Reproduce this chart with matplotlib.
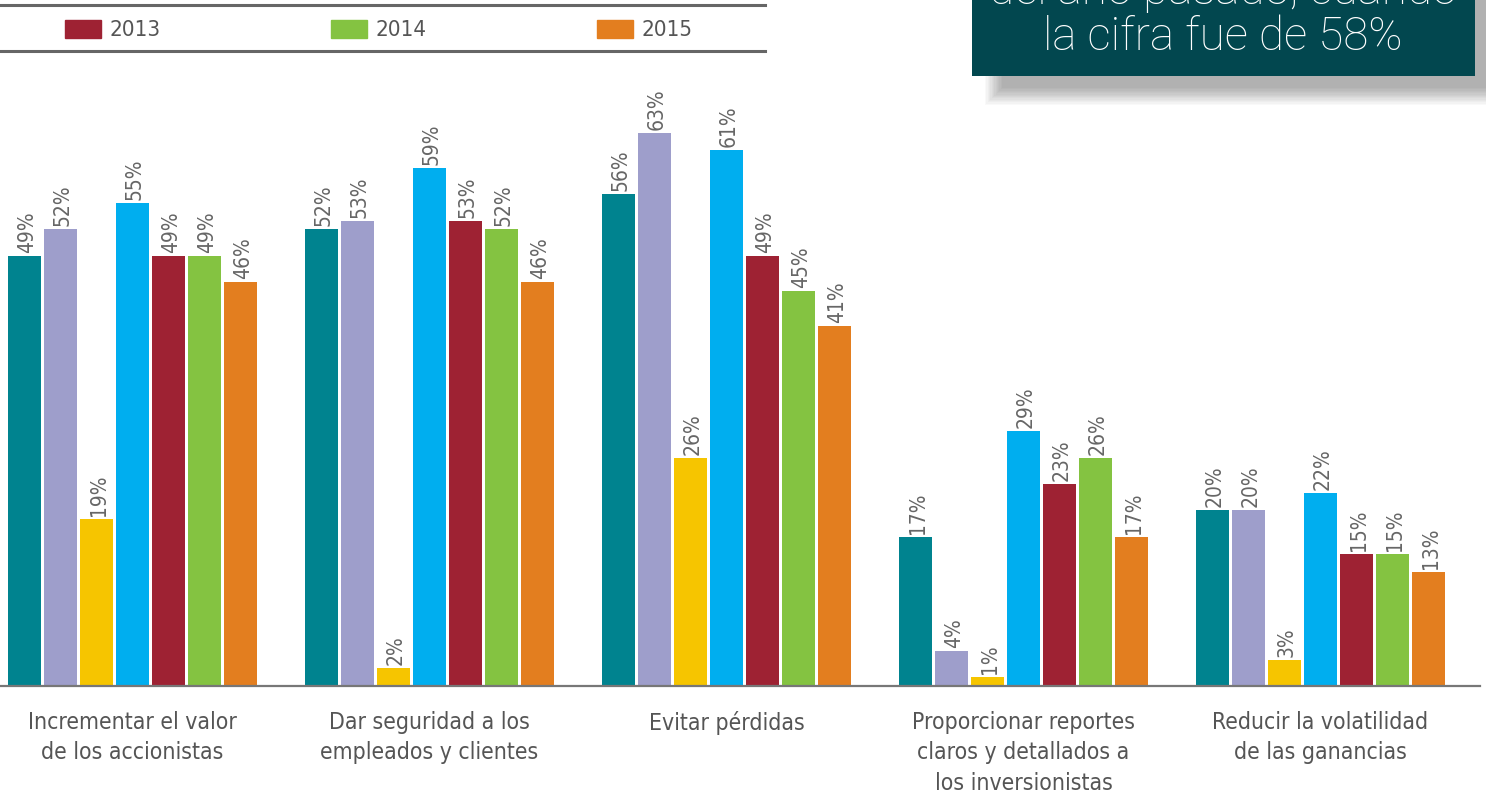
import numpy as np
import matplotlib
matplotlib.use('Agg')
import matplotlib.pyplot as plt
from matplotlib.patches import Rectangle, Patch
from matplotlib.lines import Line2D

plt.rcParams['font.family'] = ['DejaVu Sans Condensed', 'DejaVu Sans']
plt.rcParams['font.stretch'] = 'condensed'

categorias = ['Incrementar el valor\nde los accionistas',
              'Dar seguridad a los\nempleados y clientes',
              'Evitar pérdidas',
              'Proporcionar reportes\nclaros y detallados a\nlos inversionistas',
              'Reducir la volatilidad\nde las ganancias']

serie_a = [49, 52, 56, 17, 20]
serie_b = [52, 53, 63, 4, 20]
serie_c = [19, 2, 26, 1, 3]
serie_d = [55, 59, 61, 29, 22]
serie_2013 = [49, 53, 49, 23, 15]
serie_2014 = [49, 52, 45, 26, 15]
serie_2015 = [46, 46, 41, 17, 13]

series = [serie_a, serie_b, serie_c, serie_d, serie_2013, serie_2014, serie_2015]
colores = ['#00838F', '#9E9ECB', '#F6C500', '#00AEEF', '#9E2233', '#84C341', '#E37E1F']
etiquetas = ['2013', '2014', '2015']

W, H = 1486, 793
fig = plt.figure(figsize=(W / 100, H / 100), dpi=100)

# eje principal: grupos cada 297 px, base en y=686
ax = fig.add_axes([0, 107 / H, 1480 / W, 626 / H])
x = np.arange(len(categorias))
ancho = 0.111
paso = 0.1212
for i, (vals, col) in enumerate(zip(series, colores)):
    pos = x + (i - 3) * paso
    ax.bar(pos, vals, ancho, color=col, zorder=2)
    for p, v in zip(pos, vals):
        ax.text(p + 0.008, v + 0.35, f'{v}%', rotation=90, ha='center', va='bottom',
                fontsize=15, color='#666666')

ax.set_xlim(-0.446, 4.537)
ax.set_ylim(0, 71.3)
for s in ['top', 'right', 'left']:
    ax.spines[s].set_visible(False)
ax.spines['bottom'].set_color('#777777')
ax.spines['bottom'].set_linewidth(1.6)
ax.set_yticks([])
ax.set_xticks(x)
ax.set_xticklabels(categorias, fontsize=16.5, color='#555555', linespacing=1.41, va='top')
ax.tick_params(axis='x', length=0, pad=18)

# leyenda con líneas arriba y abajo
fig.add_artist(Line2D([0, 765 / W], [1 - 5 / H, 1 - 5 / H], color='#666666', lw=2.2))
fig.add_artist(Line2D([0, 765 / W], [1 - 51 / H, 1 - 51 / H], color='#666666', lw=2.2))
handles = [Patch(color=c) for c in colores[4:]]
fig.legend(handles, etiquetas, ncol=3, loc='center left', bbox_to_anchor=(65 / W, 1 - 30 / H),
           frameon=False, fontsize=16, labelcolor='#555555', handlelength=1.62,
           handleheight=0.9, handletextpad=0.4, columnspacing=7.65, borderaxespad=0, borderpad=0)

# recuadro de texto con sombra difusa
for k in range(14):
    d = k * 1.3
    fig.add_artist(Rectangle(((1002 - d) / W, 1 - (88 + d) / H), (500 + 2 * d) / W, (110 + 2 * d) / H,
                             transform=fig.transFigure, color='#000000', alpha=0.022, lw=0))
fig.add_artist(Rectangle((972 / W, 1 - 76 / H), 503 / W, 90 / H, transform=fig.transFigure,
                         color='#02474F', lw=0))
fig.text(1223 / W, 1 - (-9) / H, 'del año pasado, cuando', ha='center', va='center', color='white',
         fontsize=33, family='Roboto', fontweight='light', fontstretch='normal')
fig.text(1223 / W, 1 - 37 / H, 'la cifra fue de 58%', ha='center', va='center', color='white',
         fontsize=33, family='Roboto', fontweight='light', fontstretch='normal')

fig.savefig('out.png', dpi=100)
